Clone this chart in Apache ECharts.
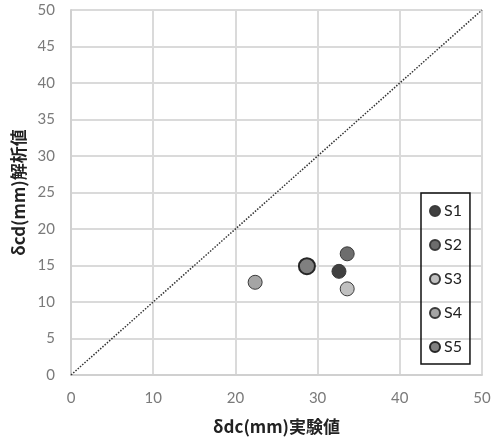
<!DOCTYPE html>
<html><head><meta charset="utf-8">
<script src="https://cdn.jsdelivr.net/npm/echarts@6/dist/echarts.min.js"></script>
<style>html,body{margin:0;padding:0;background:#fff}#c{width:499px;height:440px}</style>
</head><body><div id="c"></div>
<script>
const seriesNames = ['S1','S2','S3','S4','S5'];
const xValues = [32.6, 33.6, 33.6, 22.4, 28.7];
const yValues = [14.2, 16.6, 11.8, 12.7, 14.9];
const fillColors = ['#404040','#6d6d6d','#c0c0c0','#a5a5a5','#808080'];
const lineData = [[0,0],[50,50]];
const xTitle = 'δdc(mm)実験値';
const yTitle = 'δcd(mm)解析値';

const chart = echarts.init(document.getElementById('c'));
const scatter = seriesNames.map((n,i)=>({
  name:n, type:'scatter',
  data:[[xValues[i], yValues[i]]],
  symbolSize: n==='S5'?16:14,
  itemStyle:{color:fillColors[i], borderColor: n==='S5'?'#262626':'#3a3a3a', borderWidth: n==='S5'?2:1, opacity:1},
  z:3
}));
chart.setOption({
  animation:false,
  grid:{left:71,right:17,top:10,bottom:63},
  xAxis:{type:'value',min:0,max:50,interval:10,
    name:xTitle,nameLocation:'middle',nameGap:43,
    nameTextStyle:{fontFamily:'Noto Sans CJK JP',fontWeight:'bold',fontSize:17,color:'#222'},
    axisLine:{show:true,lineStyle:{color:'#d0d0d0',width:2}},axisTick:{show:false},
    axisLabel:{color:'#7a7a7a',fontSize:15,fontFamily:'Lato',margin:16},
    splitLine:{show:true,lineStyle:{color:'#dadada',width:2}}},
  yAxis:{type:'value',min:0,max:50,interval:5,
    name:yTitle,nameLocation:'middle',nameGap:42,
    nameTextStyle:{fontFamily:'Noto Sans CJK JP',fontWeight:'bold',fontSize:17,color:'#222'},
    axisLine:{show:true,lineStyle:{color:'#d0d0d0',width:2}},axisTick:{show:false},
    axisLabel:{color:'#7a7a7a',fontSize:15,fontFamily:'Lato',margin:16},
    splitLine:{show:true,lineStyle:{color:'#dadada',width:2}}},
  legend:{data:seriesNames,orient:'vertical',left:421,top:193,width:48,
    padding:[10,8,9,8],itemGap:18,itemWidth:10,itemHeight:10,
    borderColor:'#111',borderWidth:1.5,
    textStyle:{fontFamily:'Lato',fontSize:16,color:'#222',padding:[0,0,0,-1]}},
  series:[{type:'line',data:lineData,symbol:'none',silent:true,
    lineStyle:{type:'dotted',color:'#333',width:1.5},z:2},...scatter]
});
</script></body></html>
